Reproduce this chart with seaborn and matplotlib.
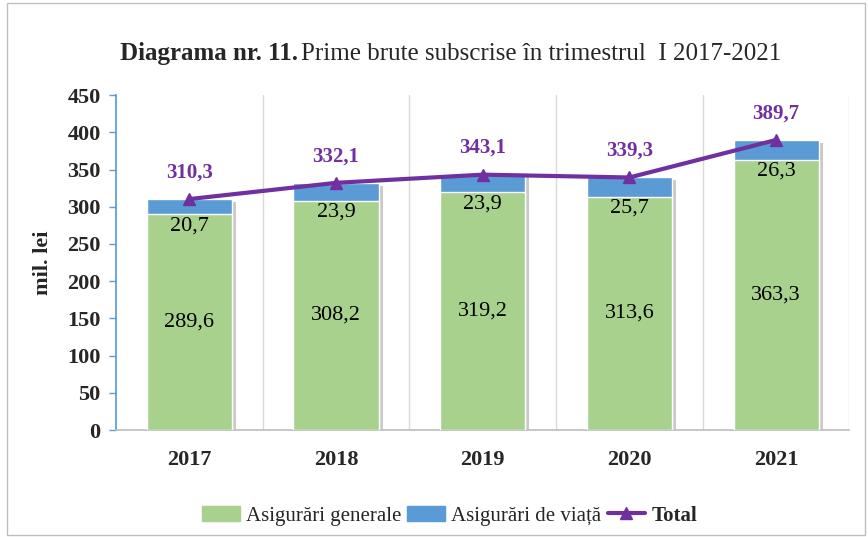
import numpy as np
import pandas as pd
import seaborn as sns
import matplotlib.pyplot as plt
import matplotlib.patheffects as pe
from matplotlib.lines import Line2D
from matplotlib.patches import Patch, Rectangle

years = ['2017', '2018', '2019', '2020', '2021']
generale = [289.6, 308.2, 319.2, 313.6, 363.3]
viata = [20.7, 23.9, 23.9, 25.7, 26.3]
total = [310.3, 332.1, 343.1, 339.3, 389.7]

green = '#A9D18E'
blue = '#5B9BD5'
purple = '#7030A0'

sns.set_theme(style='white')
plt.rcParams['font.family'] = ['Liberation Serif', 'DejaVu Serif']

df = pd.DataFrame({'an': years, 'generale': generale, 'viata': viata, 'total': total})

fig = plt.figure(figsize=(8.68, 5.37), dpi=100)
ax = fig.add_axes([0.1336, 0.199, 0.845, 0.624])

# stacked bars: blue drawn up to the total, green over it
sns.barplot(data=df, x='an', y='total', color=blue, width=0.58, saturation=1, ax=ax, zorder=2)
n_blue = len(ax.patches)
sns.barplot(data=df, x='an', y='generale', color=green, width=0.58, saturation=1, ax=ax, zorder=3)
shadow = [pe.SimplePatchShadow(offset=(3, -2), shadow_rgbFace='#A6A6A6', alpha=0.6), pe.Normal()]
for p in ax.patches[:n_blue]:
    p.set_path_effects(shadow)

x = np.arange(len(years))
ax.plot(x, df['total'], color=purple, lw=3, marker='^', ms=8, zorder=5)

for i in range(len(years)):
    ax.text(i, generale[i] / 2, f'{generale[i]:.1f}'.replace('.', ','), ha='center', va='center',
            fontsize=16, color='black', zorder=6)
    ax.text(i, generale[i] - 3, f'{viata[i]:.1f}'.replace('.', ','), ha='center', va='top',
            fontsize=16, color='black', zorder=6)
    ax.annotate(f'{total[i]:.1f}'.replace('.', ','), (i, total[i]), xytext=(0, 12),
                textcoords='offset points', ha='center', va='bottom', fontsize=15,
                fontweight='bold', color=purple, zorder=6)

ax.set_ylim(0, 450)
ax.set_xlim(-0.5, 4.5)
ax.set_yticks(range(0, 451, 50))
ax.set_xlabel('')
ax.set_ylabel('mil. lei', fontsize=16, fontweight='bold', labelpad=10)
for b in np.arange(0.5, 5, 1):
    ax.axvline(b, color='#D9D9D9', lw=1, zorder=0)

ax.tick_params(axis='y', labelsize=16, length=5, width=1, color=blue, direction='out', left=True, pad=6)
ax.tick_params(axis='x', labelsize=16, length=0, pad=14)
for lab in ax.get_xticklabels() + ax.get_yticklabels():
    lab.set_fontweight('bold')
for s in ['top', 'right']:
    ax.spines[s].set_visible(False)
ax.spines['left'].set_color(blue)
ax.spines['bottom'].set_color('#BFBFBF')

t1 = fig.text(0.138, 0.9, 'Diagrama nr. 11.', fontsize=18, fontweight='bold', va='center')
fig.canvas.draw()
bb = t1.get_window_extent()
fig.text(bb.x1 / fig.bbox.width + 0.004, 0.9, 'Prime brute subscrise în trimestrul  I 2017-2021',
         fontsize=18, va='center')

handles = [Patch(color=green), Patch(color=blue),
           Line2D([], [], color=purple, lw=3, marker='^', ms=8)]
leg = fig.legend(handles, ['Asigurări generale', 'Asigurări de viață', 'Total'], loc='center',
                 bbox_to_anchor=(0.518, 0.04), ncol=3, frameon=False, fontsize=15,
                 handlelength=1.8, handletextpad=0.3, columnspacing=0.3)
leg.get_texts()[2].set_fontweight('bold')

fig.patches.append(Rectangle((0.008, 0.004), 0.988, 0.99, transform=fig.transFigure,
                             fill=False, edgecolor='#BFBFBF', lw=1))

fig.savefig('out.png', dpi=100)
